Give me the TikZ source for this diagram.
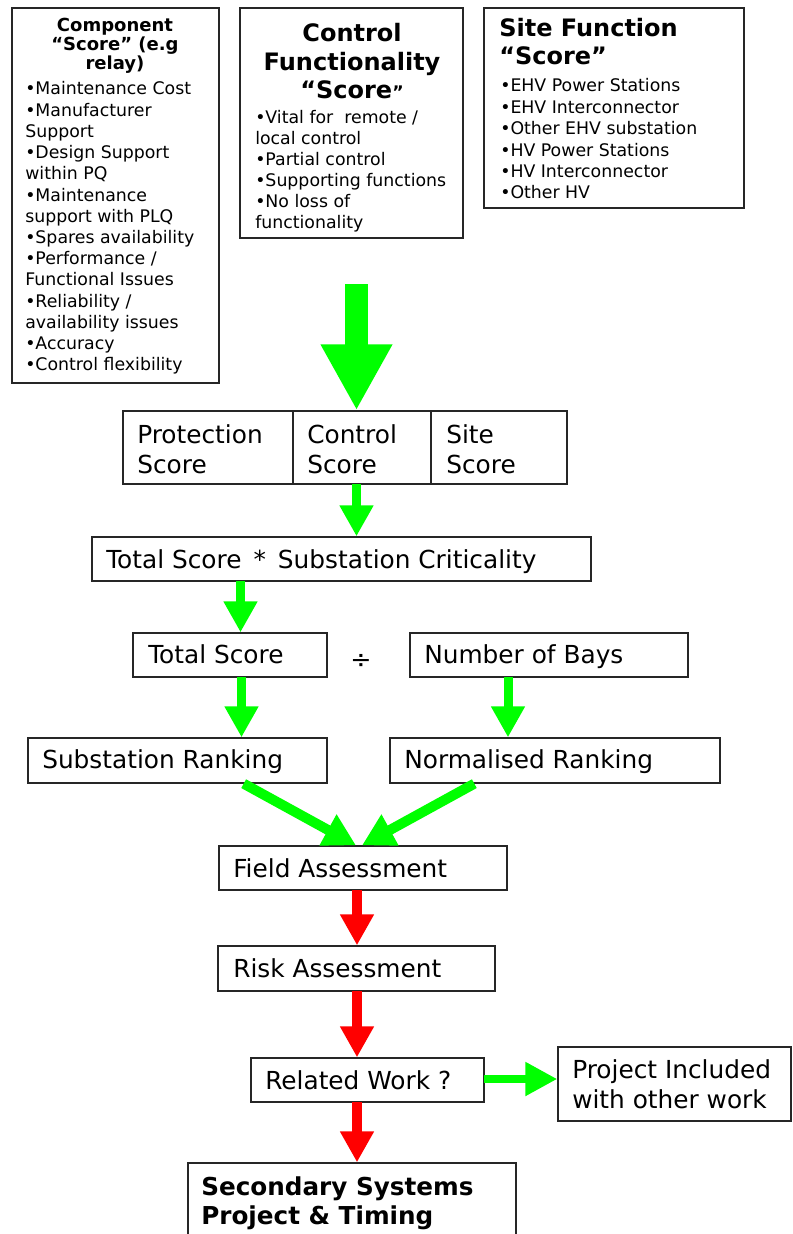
\documentclass[tikz,border=0pt]{standalone}
\usepackage{fontspec}
\setmainfont{DejaVu Sans}
\usetikzlibrary{arrows.meta,fit,calc}
\definecolor{agreen}{RGB}{0,255,0}
\definecolor{ared}{RGB}{255,0,0}
\begin{document}
\begin{tikzpicture}[x=0.75pt,y=-0.75pt,
  box/.style={draw=black!85, line width=1pt, inner sep=0pt, rectangle},
  txt/.style={anchor=base west, inner sep=0pt, font=\fontsize{13pt}{15pt}\selectfont},
  bigtxt/.style={anchor=base west, inner sep=0pt, font=\fontsize{18.6pt}{22pt}\selectfont},
  bigbold/.style={anchor=base west, inner sep=0pt, font=\bfseries\fontsize{18.5pt}{22pt}\selectfont},
  ttl/.style={anchor=base, inner sep=0pt, font=\bfseries\fontsize{18pt}{22pt}\selectfont},
  ttlw/.style={anchor=base west, inner sep=0pt, font=\bfseries\fontsize{18pt}{22pt}\selectfont},
  smallttl/.style={anchor=base, inner sep=0pt, font=\bfseries\fontsize{13.5pt}{15pt}\selectfont},
  bigarr/.style={agreen, line width=17.25pt, -{Triangle[length=49.5pt,width=50.25pt]}},
  garr/.style={agreen, line width=6.75pt, -{Triangle[length=23.25pt,width=24pt]}},
  darr/.style={agreen, line width=7.5pt, -{Triangle[length=24pt,width=25pt]}},
  rarr/.style={ared, line width=7.5pt, -{Triangle[length=23.25pt,width=24pt]}}
]
\useasboundingbox (0,0) rectangle (792,1234);

% ---------- top boxes ----------
\node[box, fit={(12,8) (219,383)}] (comp) {};
\node[smallttl] (ct1) at (115,32) {Component};
\node[smallttl] (ct2) at (115,51) {“Score” (e.g};
\node[smallttl] (ct3) at (115,70) {relay)};
\foreach \t [count=\i from 0] in {{•Maintenance Cost},{•Manufacturer},{Support},{•Design Support},{within PQ},{•Maintenance},{support with PLQ},{•Spares availability},{•Performance /},{Functional Issues},{•Reliability /},{availability issues},{•Accuracy},{•Control flexibility}}
  \node[txt, name=cb\i] at (25,{95+21.2*\i}) {\t};

\node[box, fit={(240,8) (463,238)}] (ctrl) {};
\node[ttl] (ft1) at (352,42) {Control};
\node[ttl] (ft2) at (352,71) {Functionality};
\node[ttl] (ft3) at (352,99) {“Score{\fontsize{13pt}{15pt}\selectfont ”}};
\foreach \t [count=\i from 0] in {{•Vital for\ \ remote /},{local control},{•Partial control},{•Supporting functions},{•No loss of},{functionality}}
  \node[txt, name=fb\i] at (255,{124+20.8*\i}) {\t};

\node[box, fit={(484,8) (744,208)}] (site) {};
\node[ttlw] (st1) at (499,37) {Site Function};
\node[ttlw] (st2) at (499,65) {“Score”};
\foreach \t [count=\i from 0] in {{•EHV Power Stations},{•EHV Interconnector},{•Other EHV substation},{•HV Power Stations},{•HV Interconnector},{•Other HV}}
  \node[txt, name=sb\i] at (500,{92+21.4*\i}) {\t};

% ---------- score row ----------
\node[box, fit={(123,411) (293,484)}] (prot) {};
\node[box, fit={(293,411) (431,484)}] (ctl) {};
\node[box, fit={(431,411) (567,484)}] (sit) {};
\node[bigtxt] (p1) at (137,443) {Protection};
\node[bigtxt] (p2) at (137,473) {Score};
\node[bigtxt] (c1) at (307,443) {Control};
\node[bigtxt] (c2) at (307,473) {Score};
\node[bigtxt] (s1) at (446,443) {Site};
\node[bigtxt] (s2) at (446,473) {Score};

\coordinate (bigstart) at (356.5,284);
\draw[bigarr] (bigstart) -- (bigstart |- ctl.north);

% ---------- total score ----------
\node[box, fit={(92,537) (591,581)}] (tot) {};
\node[bigtxt] (tott) at (106,568) {Total Score\,\ *\,\ Substation Criticality};
\coordinate (a1) at (356.5,484);
\draw[garr] (a1) -- (a1 |- tot.north);

\node[box, fit={(133,633) (327,677)}] (ts) {};
\node[bigtxt] (tst) at (148,663) {Total Score};
\node[inner sep=0pt, font=\fontsize{19pt}{22pt}\selectfont] (div) at (361,661) {÷};
\node[box, fit={(410,633) (688,677)}] (nb) {};
\node[bigtxt] (nbt) at (424,663) {Number of Bays};
\coordinate (a2) at (240.5,581);
\draw[garr] (a2) -- (a2 |- ts.north);

\node[box, fit={(28,738) (327,783)}] (sr) {};
\node[bigtxt] (srt) at (42,768) {Substation Ranking};
\node[box, fit={(390,738) (720,783)}] (nr) {};
\node[bigtxt] (nrt) at (404,768) {Normalised Ranking};
\coordinate (a3) at (241.5,677);
\draw[garr] (a3) -- (a3 |- sr.north);
\coordinate (a4) at (508,677);
\draw[garr] (a4) -- (a4 |- nr.north);

% ---------- field / risk ----------
\node[box, fit={(219,846) (507,890)}] (fa) {};
\node[bigtxt] (fat) at (233,877) {Field Assessment};
\coordinate (dls) at ($(sr.south east)+(-84,0)$);
\coordinate (drs) at ($(nr.south west)+(85,0)$);
\draw[darr] (dls) -- ($(fa.north)+(-7,0)$);
\draw[darr] (drs) -- ($(fa.north)+(-1,0)$);

\node[box, fit={(218,946) (495,991)}] (risk) {};
\node[bigtxt] (rkt) at (233,977) {Risk Assessment};
\coordinate (r1) at (357,890);
\draw[rarr] (r1) -- (r1 |- risk.north);

\node[box, fit={(251,1058) (484,1102)}] (rw) {};
\node[bigtxt] (rwt) at (265,1089) {Related Work ?};
\coordinate (r2) at (357,991);
\draw[rarr] (r2) -- (r2 |- rw.north);

\node[box, fit={(558,1047) (791,1121)}] (pi) {};
\node[bigtxt] (pi1) at (572,1078) {Project Included};
\node[bigtxt] (pi2) at (572,1108) {with other work};
\coordinate (g1) at (484,1079);
\draw[agreen, line width=6pt, -{Triangle[length=24pt,width=24pt]}] (g1) -- (g1 -| pi.west);

\node[box, fit={(188,1163) (516,1245)}] (sec) {};
\node[bigbold] (se1) at (201,1195) {Secondary Systems};
\node[bigbold] (se2) at (201,1224) {Project \& Timing};
\coordinate (r3) at (357,1102);
\draw[rarr] (r3) -- (r3 |- sec.north);
\end{tikzpicture}
\end{document}
